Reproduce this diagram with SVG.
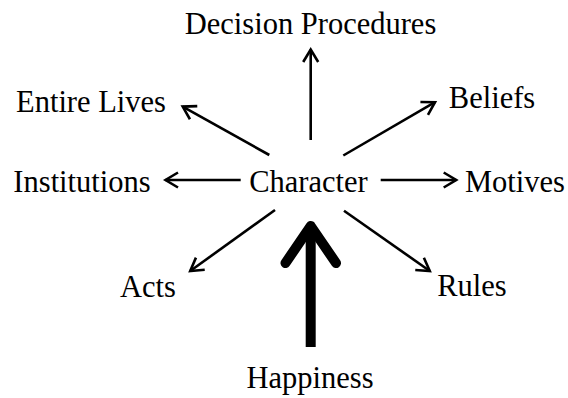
<svg xmlns="http://www.w3.org/2000/svg" width="568" height="398" viewBox="0 0 568 398">
<style>
text{font-family:"Liberation Serif","Times New Roman",serif;font-size:30.5px;fill:#000;text-anchor:middle}
.c{stroke:#000;stroke-width:2.6;fill:none}
.big{stroke:#000;stroke-width:10;fill:none;stroke-linejoin:round}
</style>
<defs>
<marker id="ah" markerUnits="userSpaceOnUse" markerWidth="30" markerHeight="30" viewBox="-20 -15 30 30" refX="0" refY="0" orient="auto">
<path d="M-12.5,-7.5 L0,0 L-12.5,7.5" fill="none" stroke="#000" stroke-width="2.6" stroke-linejoin="miter"/>
</marker>
</defs>
<g id="connectors">
<line class="c" x1="310.7" y1="140" x2="310.7" y2="49.5" marker-end="url(#ah)"/>
<line class="c" x1="269.3" y1="155" x2="182.7" y2="106.6" marker-end="url(#ah)"/>
<line class="c" x1="343.3" y1="155.5" x2="435" y2="102.2" marker-end="url(#ah)"/>
<line class="c" x1="240.7" y1="180" x2="165.5" y2="180" marker-end="url(#ah)"/>
<line class="c" x1="380.7" y1="180" x2="456.2" y2="180" marker-end="url(#ah)"/>
<line class="c" x1="275" y1="210" x2="190.2" y2="271" marker-end="url(#ah)"/>
<line class="c" x1="344" y1="210.7" x2="429.8" y2="271" marker-end="url(#ah)"/>
<path class="big" d="M310.7,347 V228"/>
<path class="big" stroke-linecap="round" d="M285.5,263 L310.7,226 L336,263"/>
</g>
<g id="decision"><text x="310.5" y="34">Decision Procedures</text></g>
<g id="entire-lives"><text x="91" y="112">Entire Lives</text></g>
<g id="beliefs"><text x="492" y="108">Beliefs</text></g>
<g id="institutions"><text x="82" y="192">Institutions</text></g>
<g id="character"><text x="308.5" y="192">Character</text></g>
<g id="motives"><text x="515" y="192">Motives</text></g>
<g id="acts"><text x="148" y="297">Acts</text></g>
<g id="rules"><text x="472" y="296">Rules</text></g>
<g id="happiness"><text x="310" y="388">Happiness</text></g>
</svg>
